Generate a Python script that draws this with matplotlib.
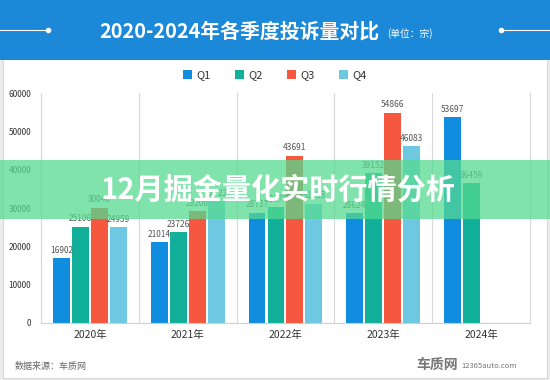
import numpy as np
import matplotlib
matplotlib.use("Agg")
import matplotlib.pyplot as plt
from matplotlib.patches import Rectangle

plt.rcParams['font.family'] = ['Noto Sans CJK SC', 'DejaVu Sans']

years = ['2020年', '2021年', '2022年', '2023年', '2024年']
quarters = ['Q1', 'Q2', 'Q3', 'Q4']
q1 = [16902, 21014, 28737, 28624, 53697]
q2 = [25106, 23726, 30170, 39152, 36459]
q3 = [30040, 29200, 43691, 54866, None]
q4 = [24959, 31722, 31183, 46083, None]
colors = ['#118de0', '#12b09a', '#f6573f', '#6ec8e2']

fig = plt.figure(figsize=(5.5, 3.8), dpi=100)
fig.patch.set_facecolor('#ececec')

# white panel and blue header
fig.patches.append(Rectangle((0.006, 0.005), 0.988, 0.84, transform=fig.transFigure,
                             facecolor='white', edgecolor='#d8d8d8', lw=0.8, zorder=-2))
fig.patches.append(Rectangle((0, 0.842), 1, 0.158, transform=fig.transFigure,
                             facecolor='#1c88d8', edgecolor='none', zorder=-2))
fig.text(0.436, 0.918, '2020-2024年各季度投诉量对比', color='white', fontsize=14.3,
         fontweight='heavy', ha='center', va='center')
fig.text(0.745, 0.913, '(单位：宗)', color='white', fontsize=7, ha='center', va='center')
fig.lines.append(plt.Line2D([0, 0.088], [0.92, 0.92], transform=fig.transFigure, color='white', lw=0.8))
fig.lines.append(plt.Line2D([0.088], [0.92], transform=fig.transFigure, color='white', marker='o', ms=3))
fig.lines.append(plt.Line2D([0.91, 1], [0.92, 0.92], transform=fig.transFigure, color='white', lw=0.8))
fig.lines.append(plt.Line2D([0.91], [0.92], transform=fig.transFigure, color='white', marker='o', ms=3))

ax = fig.add_axes([0.0745, 0.15, 0.889, 0.605])
ax.set_facecolor('none')
x = np.arange(len(years))
w = 0.173
step = 0.194
series = [q1, q2, q3, q4]
for i, (name, vals) in enumerate(zip(quarters, series)):
    xs = [xi + (i - 1.5) * step for xi, v in zip(x, vals) if v is not None]
    vs = [v for v in vals if v is not None]
    ax.bar(xs, vs, width=w, color=colors[i], label=name, zorder=2)
    for xx, vv in zip(xs, vs):
        ax.text(xx, vv + 900, str(vv), ha='center', va='bottom', fontsize=6, color='#555555')

ax.set_xlim(-0.5, 4.5)
ax.set_ylim(0, 60000)
ax.set_yticks(range(0, 60001, 10000))
ax.set_xticks(x)
ax.set_xticklabels(years, fontsize=7.5, color='#333333')
ax.tick_params(axis='y', labelsize=6, labelcolor='#333333', length=0, pad=7)
ax.tick_params(axis='x', length=0, pad=5)
for b in np.arange(0.5, 4.5, 1):
    ax.axvline(b, color='#d9d9d9', lw=0.8, zorder=1)
ax.spines['top'].set_visible(False)
ax.spines['left'].set_color('#d9d9d9')
ax.spines['right'].set_color('#d9d9d9')
ax.spines['bottom'].set_color('#cfcfcf')

leg = fig.legend(loc='center', bbox_to_anchor=(0.5, 0.802), ncol=4, frameon=False,
                 fontsize=8, handlelength=0.8, handleheight=0.8, handletextpad=0.4,
                 columnspacing=2.2)
for t in leg.get_texts():
    t.set_color('#333333')

fig.text(0.027, 0.036, '数据来源：车质网', fontsize=6.5, color='#666666', ha='left', va='center')
fig.text(0.795, 0.04, '车质网', fontsize=10, color='#777777', fontweight='bold', ha='center', va='center')
fig.text(0.89, 0.036, '12365auto.com', fontsize=5.5, color='#777777', ha='center', va='center')

# green overlay band
fig.patches.append(Rectangle((0, 0.425), 1, 0.155, transform=fig.transFigure,
                             facecolor='#55da90', edgecolor='none', alpha=0.75, zorder=5))
fig.text(0.505, 0.5, '12月掘金量化实时行情分析', color='white', fontsize=21,
         fontweight='heavy', ha='center', va='center', zorder=6)

fig.savefig('out.png', dpi=100, facecolor=fig.get_facecolor())
